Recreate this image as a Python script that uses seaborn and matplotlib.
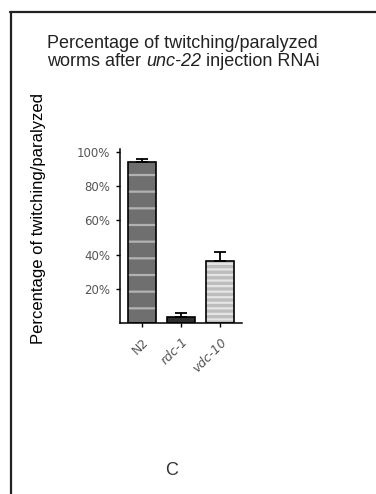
import matplotlib
matplotlib.use("Agg")
import matplotlib.pyplot as plt
from matplotlib.lines import Line2D
import seaborn as sns
import numpy as np
import pandas as pd

# Mean percentage of twitching/paralyzed worms and upper SEM per strain
strains = ["N2", "rdc-1", "vdc-10"]
percent_affected = [94.0, 3.5, 36.0]
sem = [1.7, 2.3, 5.5]
ytick_values = [20, 40, 60, 80, 100]
ytick_labels = ["20%", "40%", "60%", "80%", "100%"]
italic_strains = {"rdc-1", "vdc-10"}

fill_colors = ["#6f6f6f", "#2e2e2e", "#bdbdbd"]
stripe_colors = ["#b2b2b2", "#7a7a7a", "#e4e4e4"]
stripe_patterns = ["-", "-", "---"]

sns.set_theme(style="ticks")
plt.rcParams["font.family"] = ["Liberation Sans", "DejaVu Sans"]
plt.rcParams["hatch.linewidth"] = 1.6

fig = plt.figure(figsize=(3.76, 4.94), dpi=100)
W, H = 376, 494
ax = fig.add_axes([120 / W, 1 - 323 / H, 122 / W, 174.4 / H])

df = pd.DataFrame({"strain": strains, "percent": percent_affected})

# striped fill of the bars
sns.barplot(data=df, x="strain", y="percent", hue="strain", palette=fill_colors,
            legend=False, width=0.72, errorbar=None, linewidth=0, ax=ax)
for patch, sc, hp in zip(ax.patches, stripe_colors, stripe_patterns):
    patch.set_hatch(hp)
    patch.set_edgecolor(sc)
    patch.set_linewidth(0)

# black outline on top
sns.barplot(data=df, x="strain", y="percent", color="black", fill=False,
            width=0.72, errorbar=None, linewidth=1.2, ax=ax)

# upper SEM error bars
ax.errorbar(np.arange(len(strains)), percent_affected,
            yerr=[np.zeros(len(sem)), sem], fmt="none", ecolor="black",
            elinewidth=1.3, capsize=4, capthick=1.3, zorder=5)

ax.set_xlim(-0.56, 2.56)
ax.set_ylim(0, 102)
ax.set_yticks(ytick_values, ytick_labels)
sns.despine(ax=ax)
for side in ("left", "bottom"):
    ax.spines[side].set_linewidth(1.1)
    ax.spines[side].set_color("black")

ax.tick_params(axis="y", length=3, width=1, color="black", labelsize=8.5,
               labelcolor="#555555", pad=4)
ax.tick_params(axis="x", length=3, width=1, color="black", labelsize=9,
               labelcolor="#555555", pad=6)
for lab in ax.get_yticklabels():
    lab.set_family("DejaVu Sans")
for lab in ax.get_xticklabels():
    lab.set_family("DejaVu Sans")
    lab.set_rotation(45)
    lab.set_ha("right")
    lab.set_va("top")
    lab.set_rotation_mode("anchor")
    if lab.get_text() in italic_strains:
        lab.set_style("italic")

ax.set_xlabel("")
ax.set_ylabel("Percentage of twitching/paralyzed", fontsize=12, color="black")
ax.yaxis.set_label_coords((46 - 120) / 122, (323 - 218) / 174.4)

# two-line heading with the italic gene name
title_size = 13
fig.text(47 / W, 1 - 48 / H, "Percentage of twitching/paralyzed",
         va="baseline", ha="left", fontsize=title_size, color="#222222")
fig.canvas.draw()
renderer = fig.canvas.get_renderer()
x = 47 / W
for piece, style in [("worms after ", "normal"), ("unc-22", "italic"),
                     (" injection RNAi", "normal")]:
    t = fig.text(x, 1 - 66 / H, piece, va="baseline", ha="left",
                 fontsize=title_size, style=style, color="#222222")
    bb = t.get_window_extent(renderer)
    x += bb.width / W

fig.text(172 / W, 1 - 475 / H, "C", ha="center", va="baseline",
         fontsize=13, color="#333333")

# panel frame
fig.add_artist(Line2D([10.5 / W, 10.5 / W], [0, 1 - 12 / H],
                      transform=fig.transFigure, lw=1.6, color="#222222"))
fig.add_artist(Line2D([10 / W, 1], [1 - 12 / H, 1 - 12 / H],
                      transform=fig.transFigure, lw=1.6, color="#222222"))

fig.savefig("out.png", dpi=100)
